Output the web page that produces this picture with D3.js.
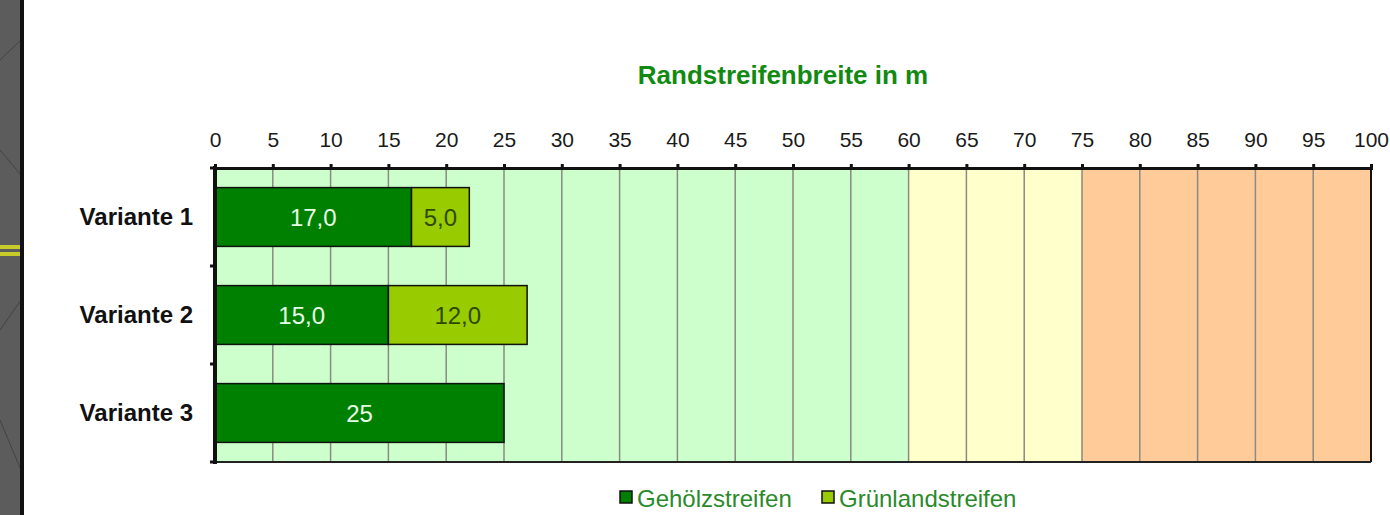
<!DOCTYPE html>
<html>
<head>
<meta charset="utf-8">
<script src="https://cdn.jsdelivr.net/npm/d3@7"></script>
<style>
  body { margin: 0; background: #fff; }
  svg { display: block; font-family: "Liberation Sans", Arial, sans-serif; }
</style>
</head>
<body>
<script>
// data
var categories = ["Variante 1", "Variante 2", "Variante 3"];
var gehoelz = [17, 15, 25];
var gruenland = [5, 12, 0];
var gehoelzLabels = ["17,0", "15,0", "25"];
var gruenlandLabels = ["5,0", "12,0", ""];
var tickValues = d3.range(0, 101, 5);
var zones = [[0, 60, "#ccffcc"], [60, 75, "#ffffcc"], [75, 100, "#ffcc99"]];
var seriesNames = ["Gehölzstreifen", "Grünlandstreifen"];

var width = 1390, height = 515;
var plot = { left: 215, right: 1371, top: 168, bottom: 462 };

var svg = d3.select("body")
	.append("svg")
	.attr("width", width)
	.attr("height", height);

// left map strip
svg.append("rect").attr("x", 0).attr("y", 0).attr("width", 21).attr("height", height).attr("fill", "#5c5c5c");
[[0, 60, 21, 40], [0, 150, 21, 175], [0, 330, 21, 300], [0, 420, 21, 470]].forEach(function(l){
	svg.append("line").attr("x1", l[0]).attr("y1", l[1]).attr("x2", l[2]).attr("y2", l[3])
		.attr("stroke", "#444").attr("stroke-width", 1);
});
svg.append("rect").attr("x", 0).attr("y", 245).attr("width", 21).attr("height", 4).attr("fill", "#c8cc2a");
svg.append("rect").attr("x", 0).attr("y", 252).attr("width", 21).attr("height", 4).attr("fill", "#c8cc2a");
svg.append("rect").attr("x", 20).attr("y", 0).attr("width", 4).attr("height", height).attr("fill", "#111");

var x = d3.scaleLinear().domain([0, 100]).range([plot.left, plot.right]);
var y = d3.scaleBand().domain(categories).range([plot.top, plot.bottom]).paddingInner(0.4).paddingOuter(0.2);
var yEdge = d3.scaleBand().domain(categories).range([plot.top, plot.bottom]);

// background zones
svg.selectAll(".zone")
	.data(zones)
	.enter()
	.append("rect")
	.attr("x", function(d){ return x(d[0]); })
	.attr("y", plot.top)
	.attr("width", function(d){ return x(d[1]) - x(d[0]); })
	.attr("height", plot.bottom - plot.top)
	.attr("fill", function(d){ return d[2]; });

// gridlines
svg.selectAll(".grid")
	.data(tickValues.slice(1, -1))
	.enter()
	.append("line")
	.attr("x1", function(d){ return x(d); })
	.attr("x2", function(d){ return x(d); })
	.attr("y1", plot.top)
	.attr("y2", plot.bottom)
	.attr("stroke", "#8a8a80")
	.attr("stroke-width", 1.5);

// plot border right/bottom
svg.append("line").attr("x1", plot.right).attr("x2", plot.right).attr("y1", plot.top).attr("y2", plot.bottom)
	.attr("stroke", "#111").attr("stroke-width", 2);
svg.append("line").attr("x1", plot.left).attr("x2", plot.right).attr("y1", plot.bottom).attr("y2", plot.bottom)
	.attr("stroke", "#222").attr("stroke-width", 2);

// bars
var bh = y.bandwidth();
svg.selectAll(".b1")
	.data(categories)
	.enter()
	.append("rect")
	.attr("x", x(0))
	.attr("y", function(d){ return y(d); })
	.attr("width", function(d, i){ return x(gehoelz[i]) - x(0); })
	.attr("height", bh)
	.attr("fill", "#008000")
	.attr("stroke", "#111")
	.attr("stroke-width", 1.5);

svg.selectAll(".b2")
	.data(categories.filter(function(d, i){ return gruenland[i] > 0; }))
	.enter()
	.append("rect")
	.attr("x", function(d){ var i = categories.indexOf(d); return x(gehoelz[i]); })
	.attr("y", function(d){ return y(d); })
	.attr("width", function(d){ var i = categories.indexOf(d); return x(gehoelz[i] + gruenland[i]) - x(gehoelz[i]); })
	.attr("height", bh)
	.attr("fill", "#99cc00")
	.attr("stroke", "#111")
	.attr("stroke-width", 1.5);

// bar labels
svg.selectAll(".l1")
	.data(categories)
	.enter()
	.append("text")
	.attr("x", function(d, i){ return x(gehoelz[i] / 2); })
	.attr("y", function(d){ return y(d) + bh / 2 + 9; })
	.attr("text-anchor", "middle")
	.attr("font-size", 24)
	.attr("fill", "#e8ffe8")
	.text(function(d, i){ return gehoelzLabels[i]; });

svg.selectAll(".l2")
	.data(categories)
	.enter()
	.append("text")
	.attr("x", function(d, i){ return x(gehoelz[i] + gruenland[i] / 2); })
	.attr("y", function(d){ return y(d) + bh / 2 + 9; })
	.attr("text-anchor", "middle")
	.attr("font-size", 24)
	.attr("fill", "#2f4a00")
	.text(function(d, i){ return gruenlandLabels[i]; });

// top axis
var xAxis = d3.axisTop(x).tickValues(tickValues).tickSize(4).tickPadding(17);
var gx = svg.append("g").attr("transform", "translate(0," + plot.top + ")").call(xAxis);
gx.select(".domain").attr("stroke", "#111").attr("stroke-width", 3);
gx.selectAll(".tick line").attr("stroke", "#111").attr("stroke-width", 3);
gx.selectAll(".tick text").attr("font-size", 21).attr("fill", "#1a1a1a")
	.attr("font-family", "'Liberation Sans', Arial, sans-serif");

// left axis
svg.append("line").attr("x1", plot.left).attr("x2", plot.left).attr("y1", plot.top - 2).attr("y2", plot.bottom + 2)
	.attr("stroke", "#111").attr("stroke-width", 4);
svg.selectAll(".ytick")
	.data(categories.concat(["end"]))
	.enter()
	.append("line")
	.attr("x1", plot.left - 5)
	.attr("x2", plot.left)
	.attr("y1", function(d, i){ return i < categories.length ? yEdge(d) : plot.bottom; })
	.attr("y2", function(d, i){ return i < categories.length ? yEdge(d) : plot.bottom; })
	.attr("stroke", "#111")
	.attr("stroke-width", 3);

svg.selectAll(".cat")
	.data(categories)
	.enter()
	.append("text")
	.attr("x", 193)
	.attr("y", function(d){ return y(d) + bh / 2 + 8; })
	.attr("text-anchor", "end")
	.attr("font-size", 24)
	.attr("font-weight", "bold")
	.attr("fill", "#111")
	.text(function(d){ return d; });

// title
svg.append("text")
	.attr("x", 783)
	.attr("y", 84)
	.attr("text-anchor", "middle")
	.attr("font-size", 26)
	.attr("font-weight", "bold")
	.attr("fill", "#128a12")
	.text("Randstreifenbreite in m");

// legend
var legendX = [620, 822];
var legendColors = ["#008000", "#99cc00"];
seriesNames.forEach(function(name, i){
	svg.append("rect").attr("x", legendX[i]).attr("y", 491).attr("width", 12).attr("height", 12)
		.attr("fill", legendColors[i]).attr("stroke", "#111").attr("stroke-width", 1.5);
	svg.append("text").attr("x", legendX[i] + 17).attr("y", 507)
		.attr("font-size", 24).attr("fill", "#2a8a2a").text(name);
});
</script>
</body>
</html>
